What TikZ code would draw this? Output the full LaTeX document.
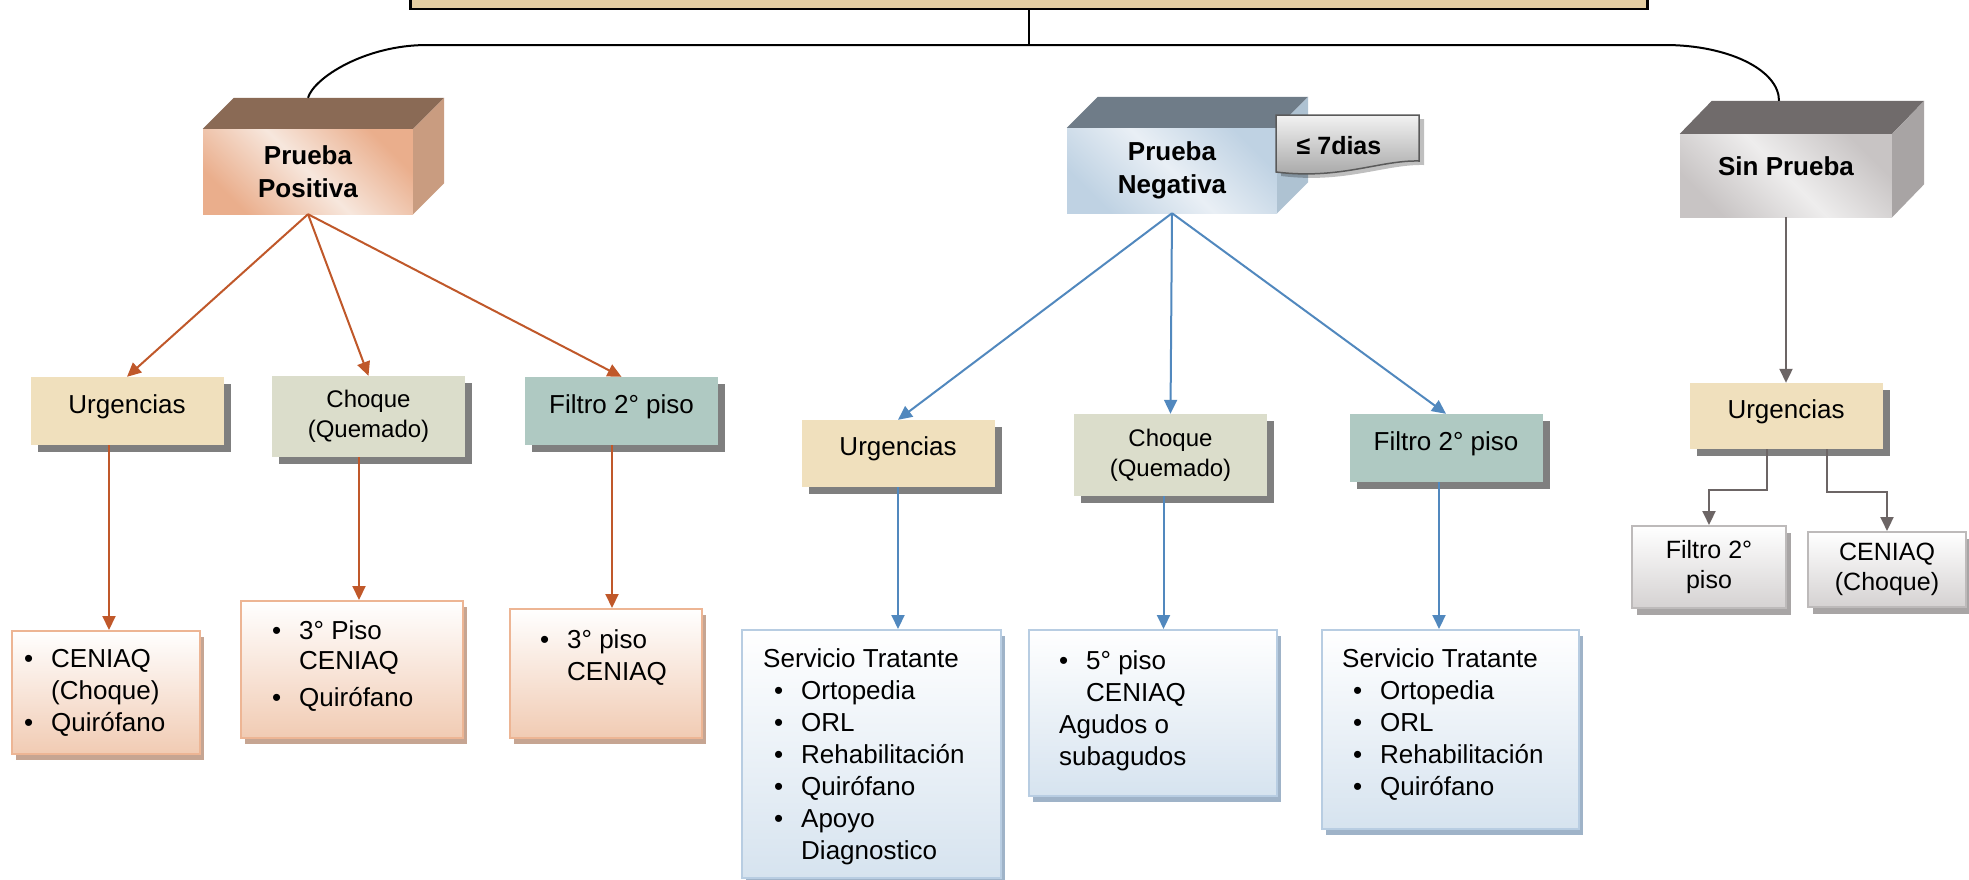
\documentclass[tikz,border=0pt]{standalone}
\usepackage{fontspec}
\setmainfont{Liberation Sans}
\usetikzlibrary{arrows.meta,shadows,calc}
\definecolor{topfill}{HTML}{E3CDA1}
\definecolor{urg}{HTML}{F0E0BD}
\definecolor{cho}{HTML}{DBDDCB}
\definecolor{fil}{HTML}{AFC9C2}
\definecolor{shad}{HTML}{7F7F7F}
\definecolor{orarr}{HTML}{C0582A}
\definecolor{blarr}{HTML}{5188BE}
\definecolor{grarr}{HTML}{6C6565}
\definecolor{obord}{HTML}{EDB594}
\definecolor{obot}{HTML}{F1CBB3}
\definecolor{oshad}{HTML}{C6A592}
\definecolor{bbord}{HTML}{B8CDE2}
\definecolor{bbot}{HTML}{D6E3EF}
\definecolor{bshad}{HTML}{9FB3C8}
\definecolor{gbord}{HTML}{BDBABA}
\definecolor{gbot}{HTML}{D5D2D2}
\definecolor{gshad}{HTML}{A8A5A5}
\definecolor{pptop}{HTML}{8A6A55}
\definecolor{ppside}{HTML}{C99C80}
\definecolor{ppa}{HTML}{EAAE8C}
\definecolor{ppb}{HTML}{F7E7DD}
\definecolor{pntop}{HTML}{6F7C88}
\definecolor{pnside}{HTML}{AEC2D2}
\definecolor{pna}{HTML}{BFD2E3}
\definecolor{pnb}{HTML}{E9EFF5}
\definecolor{sptop}{HTML}{706B6B}
\definecolor{spside}{HTML}{A8A4A4}
\definecolor{spa}{HTML}{C8C4C4}
\definecolor{spb}{HTML}{EEEDED}
\definecolor{labbord}{HTML}{5A5A5A}
\definecolor{labtop}{HTML}{F2F2F2}
\definecolor{labbot}{HTML}{A2A2A2}
\newcommand\fsA{\fontsize{26}{32}\selectfont}
\newcommand\fsB{\fontsize{24}{30}\selectfont}
\newcommand\fsC{\fontsize{25}{30}\selectfont}
\newcommand\fsD{\fontsize{26}{33}\selectfont\bfseries}
\newcommand\fsE{\fontsize{26}{30}\selectfont}
\newcommand\bl{\makebox[27pt][l]{\textbullet}}
\newcommand\ind{\hspace*{27pt}}
\newcommand\subind{\hspace*{11pt}}
\begin{document}
\begin{tikzpicture}[x=1pt,y=-1pt,
  tip/.style={-{Triangle[length=14pt,width=13pt]}},
  oarr/.style={draw=orarr,line width=2pt,tip},
  barr/.style={draw=blarr,line width=2pt,tip},
  garr/.style={draw=grarr,line width=2pt,tip},
  tree/.style={draw=black,line width=2pt},
  topbox/.style={rectangle,inner sep=0pt,draw=black,line width=2.5pt,fill=topfill},
  front/.style={rectangle,inner sep=0pt,font=\fsD},
  l2/.style={rectangle,inner sep=0pt,minimum width=193pt,font=\fsA,text height=19pt,text depth=15pt,
    drop shadow={shadow xshift=7pt,shadow yshift=-7pt,fill=shad,opacity=1}},
  l2c/.style={rectangle,inner sep=0pt,minimum width=193pt,font=\fsB,align=center,
    drop shadow={shadow xshift=7pt,shadow yshift=-7pt,fill=shad,opacity=1}},
  obox/.style={rectangle,inner sep=0pt,draw=obord,line width=2pt,top color=white,bottom color=obot,anchor=north west,
    drop shadow={shadow xshift=4pt,shadow yshift=-6pt,fill=oshad,opacity=1}},
  bbox/.style={rectangle,inner sep=0pt,draw=bbord,line width=2pt,top color=white,bottom color=bbot,anchor=north west,
    drop shadow={shadow xshift=4pt,shadow yshift=-6pt,fill=bshad,opacity=1}},
  gbox/.style={rectangle,inner sep=0pt,draw=gbord,line width=2pt,top color=white,bottom color=gbot,font=\fsC,align=center,
    drop shadow={shadow xshift=5pt,shadow yshift=-7pt,fill=gshad,opacity=1}},
  l3t/.style={inner sep=0pt,font=\fsA,align=left,anchor=north west},
]
\useasboundingbox (0,0) rectangle (1969,879);
\fill[white] (0,0) rectangle (1969,879);

% top box (cut off by the page top)
\node[topbox,minimum width=1237pt,minimum height=90pt,anchor=south west] (top) at (409,10) {};

% Prueba Positiva
\node[front,align=center,minimum width=210pt,minimum height=85pt,top color=ppa,bottom color=ppa,middle color=ppb,shading angle=-45] (pp) at (308,171.5) {Prueba\\Positiva};
\fill[pptop] (pp.north west) -- ++(31,-31) -- ($(pp.north east)+(31,-31)$) -- (pp.north east) -- cycle;
\fill[ppside] (pp.north east) -- ++(31,-31) -- ($(pp.south east)+(31,-31)$) -- (pp.south east) -- cycle;

% Prueba Negativa
\node[front,align=center,minimum width=210pt,minimum height=85pt,top color=pna,bottom color=pna,middle color=pnb,shading angle=-45] (pn) at (1172,170.5) {Prueba\\Negativa};
\fill[pntop] (pn.north west) -- ++(31,-31) -- ($(pn.north east)+(31,-31)$) -- (pn.north east) -- cycle;
\fill[pnside] (pn.north east) -- ++(31,-31) -- ($(pn.south east)+(31,-31)$) -- (pn.south east) -- cycle;

% Sin Prueba
\node[front,minimum width=212pt,minimum height=83pt,text height=19pt,text depth=20pt,top color=spa,bottom color=spa,middle color=spb,shading angle=-45] (sp) at (1786,175.5) {Sin Prueba};
\fill[sptop] (sp.north west) -- ++(32,-33) -- ($(sp.north east)+(32,-33)$) -- (sp.north east) -- cycle;
\fill[spside] (sp.north east) -- ++(32,-33) -- ($(sp.south east)+(32,-33)$) -- (sp.south east) -- cycle;

% label <= 7dias
\path[draw=labbord,line width=1.5pt,top color=labtop,bottom color=labbot,
  drop shadow={shadow xshift=5pt,shadow yshift=-4pt,fill=black,opacity=.25}]
  (1276,115) -- (1419,115) -- (1419,161) .. controls (1380,160) and (1340,180) .. (1276,172) -- cycle;
\node[inner sep=0pt,font=\fsC\bfseries] (dias) at (1339,146) {≤ 7dias};

% tree connector
\coordinate (hubL) at (427,45);
\coordinate (hubR) at (1665,45);
\draw[draw=black,line width=1.5pt] (top.south) -- (top.south |- hubL);
\draw[tree] ([yshift=31pt]pp.north) .. controls +(6,-20) and +(-62,0) .. (hubL) -- (hubR)
  .. controls +(63,0) and +(0,-31) .. ([xshift=-7pt,yshift=33pt]sp.north);

% level 2
\node[l2,fill=urg,minimum height=68pt] (uL) at (127,411) {Urgencias};
\node[l2c,fill=cho,minimum height=81pt] (cL) at (368.5,416.5) {Choque\\(Quemado)};
\node[l2,fill=fil,minimum height=68pt] (fL) at (621.5,411) {Filtro 2° piso};
\node[l2,fill=urg,minimum height=67pt] (uM) at (898,453.5) {Urgencias};
\node[l2c,fill=cho,minimum height=82pt] (cM) at (1170.5,455) {Choque\\(Quemado)};
\node[l2,fill=fil,minimum height=68pt] (fM) at (1446,448) {Filtro 2° piso};
\node[l2,fill=urg,minimum height=66pt] (uR) at (1786,416) {Urgencias};

% level 3 left
\node[obox,minimum width=188pt,minimum height=123pt] (c1) at (11,630) {};
\node[l3t] (c1t) at ($(c1.north west)+(13,19)$) {\bl CENIAQ\\\ind(Choque)\\\bl Quirófano};
\node[obox,minimum width=222pt,minimum height=137pt] (c2) at (240,600) {};
\node[l3t,font=\fsE] (c2t) at ($(c2.north west)+(32,20)$) {\bl 3° Piso\\\ind CENIAQ\\[7pt]\bl Quirófano};
\node[obox,minimum width=192pt,minimum height=129pt] (c3) at (509,608) {};
\node[l3t] (c3t) at ($(c3.north west)+(31,21)$) {\bl 3° piso\\\ind CENIAQ};

% level 3 middle
\node[bbox,minimum width=259pt,minimum height=248pt] (s1) at (741,629) {};
\node[l3t] (s1t) at ($(s1.north west)+(22,19)$) {Servicio Tratante\\\subind\bl Ortopedia\\\subind\bl ORL\\\subind\bl Rehabilitación\\\subind\bl Quirófano\\\subind\bl Apoyo\\\subind\ind Diagnostico};
\node[bbox,minimum width=248pt,minimum height=166pt] (s2) at (1028,629) {};
\node[l3t] (s2t) at ($(s2.north west)+(31,21)$) {\bl 5° piso\\\ind CENIAQ\\Agudos o\\subagudos};
\node[bbox,minimum width=257pt,minimum height=199pt] (s3) at (1321,629) {};
\node[l3t] (s3t) at ($(s3.north west)+(21,19)$) {Servicio Tratante\\\subind\bl Ortopedia\\\subind\bl ORL\\\subind\bl Rehabilitación\\\subind\bl Quirófano};

% level 3 right
\node[gbox,minimum width=154pt,minimum height=82pt] (g1) at (1709,567) {Filtro 2°\\piso};
\node[gbox,minimum width=158pt,minimum height=75pt] (g2) at (1887,569.5) {CENIAQ\\(Choque)};

% arrows left
\draw[oarr] (pp.south) -- (uL.north);
\draw[oarr] (pp.south) -- (cL.north);
\draw[oarr] (pp.south) -- (fL.north);
\draw[oarr] ($(uL.south -| c1.north)+(3,0)$) -- ($(c1.north)+(3,0)$);
\draw[oarr] ($(cL.south -| c2.north)+(7,0)$) -- ($(c2.north)+(7,0)$);
\draw[oarr] ($(fL.south -| c3.north)+(6,0)$) -- ($(c3.north)+(6,0)$);

% arrows middle
\draw[barr] (pn.south) -- (uM.north);
\draw[barr] (pn.south) -- (cM.north);
\draw[barr] (pn.south) -- (fM.north);
\draw[barr] (uM.south) -- (uM.south |- s1.north);
\draw[barr] ($(cM.south)+(-7,0)$) -- ($(cM.south |- s2.north)+(-7,0)$);
\draw[barr] ($(fM.south)+(-7,0)$) -- ($(fM.south |- s3.north)+(-7,0)$);

% arrows right
\draw[garr] (sp.south) -- (uR.north);
\draw[garr] ($(uR.south)+(-19,0)$) -- ++(0,41) -| (g1.north);
\draw[garr] ($(uR.south)+(41,0)$) -- ++(0,43) -| (g2.north);
\end{tikzpicture}
\end{document}
